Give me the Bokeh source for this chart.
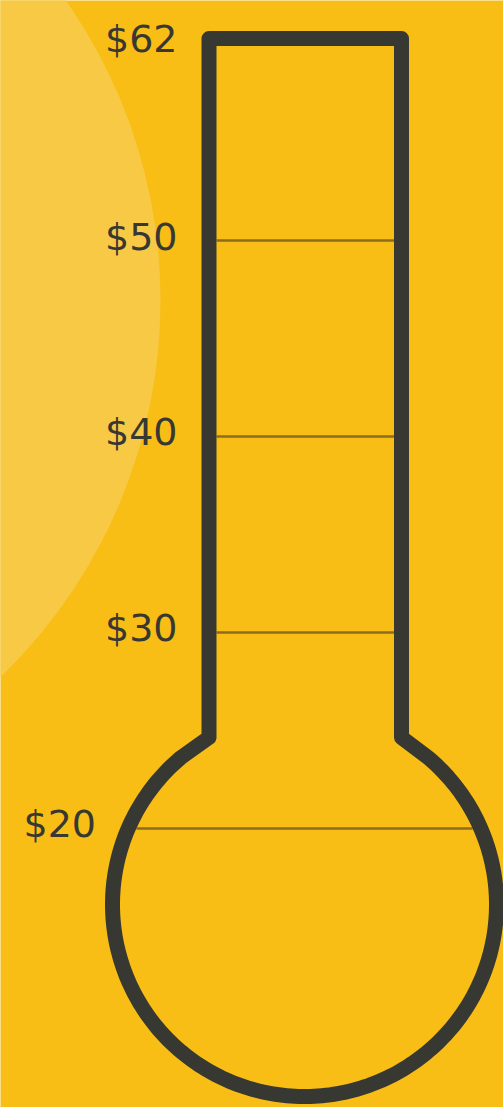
import numpy as np
from bokeh.plotting import figure
from bokeh.models import Range1d, ColumnDataSource
from bokeh.core.properties import value
from bokeh.embed import file_html
from bokeh.resources import INLINE

# ---- data ----
tick_values = [50, 40, 30, 20]
tick_labels = ["$50", "$40", "$30", "$20"]
goal_value = 62
goal_label = "$" + str(goal_value)

# ---- page / style ----
W, H = 503, 1107
BG = "#F8BE16"
HALO = "#F8C944"
INK = "#383833"
TICK = "#8B6D1F"
FONT = "DejaVu Sans"
FONT_SIZE = "38px"

# dollar scale spanning the page height (bottom -> top)
USD_LO, USD_HI = 5.765, 62.245

# thermometer geometry in page pixels (y grows downward)
TUBE_L, TUBE_R, TUBE_TOP, NECK_Y = 208.5, 401.0, 38.0, 737.0
BULB_CX, BULB_CY, BULB_R = 304.0, 904.0, 192.0
STROKE = 15
HALO_CX, HALO_CY, HALO_R = -363.0, 300.0, 523.0
LABEL_GAP = 24


def px_of(v):
    return (USD_HI - v) / (USD_HI - USD_LO) * H


def inner_span(py):
    if py < NECK_Y:
        return TUBE_L + STROKE / 2, TUBE_R - STROKE / 2
    r = BULB_R - STROKE / 2
    dx = np.sqrt(max(r * r - (py - BULB_CY) ** 2, 0))
    return BULB_CX - dx, BULB_CX + dx


def outer_left(py):
    if py < NECK_Y:
        return TUBE_L - STROKE / 2
    r = BULB_R + STROKE / 2
    dx = np.sqrt(max(r * r - (py - BULB_CY) ** 2, 0))
    return BULB_CX - dx


p = figure(width=W, height=H, output_backend="svg", toolbar_location=None,
           x_range=Range1d(0, W), y_range=Range1d(H, 0),
           min_border=0, min_border_left=0, min_border_right=0,
           min_border_top=0, min_border_bottom=0)
p.extra_y_ranges = {"usd": Range1d(USD_LO, USD_HI)}
p.background_fill_color = BG
p.border_fill_color = BG
p.outline_line_color = None
p.xaxis.visible = False
p.yaxis.visible = False
p.xgrid.visible = False
p.ygrid.visible = False

# soft halo
p.circle(x=[HALO_CX], y=[HALO_CY], radius=HALO_R, fill_color=HALO, line_color=None)

# tick lines (in dollar units)
x0s, x1s, lxs = [], [], []
for v in tick_values:
    py = px_of(v)
    a, b = inner_span(py)
    x0s.append(a)
    x1s.append(b)
    lxs.append(outer_left(py) - LABEL_GAP)
src = ColumnDataSource(dict(x0=x0s, x1=x1s, y=tick_values, lx=lxs, label=tick_labels))
p.segment(x0="x0", y0="y", x1="x1", y1="y", source=src, y_range_name="usd",
          line_color=TICK, line_width=2.5)
p.text(x="lx", y="y", text="label", source=src, y_range_name="usd",
       text_align="right", text_baseline="alphabetic", y_offset=-4,
       text_font=value(FONT), text_font_size=FONT_SIZE, text_color=INK)

# thermometer outline
join_dy = 20.0
theta0 = -np.arcsin((BULB_CY - (NECK_Y + join_dy)) / BULB_R)
theta1 = np.pi - theta0
th = np.linspace(theta0, theta1, 240)
xs = [TUBE_L, TUBE_L, TUBE_R, TUBE_R] + list(BULB_CX + BULB_R * np.cos(th)) + [TUBE_L]
ys = [NECK_Y, TUBE_TOP, TUBE_TOP, NECK_Y] + list(BULB_CY + BULB_R * np.sin(th)) + [NECK_Y]
p.line(xs, ys, line_color=INK, line_width=STROKE, line_join="round", line_cap="round")

# goal label at the top of the tube
p.text(x=[TUBE_L - STROKE / 2 - LABEL_GAP], y=[TUBE_TOP], text=[goal_label],
       text_align="right", text_baseline="alphabetic",
       text_font=value(FONT), text_font_size=FONT_SIZE, text_color=INK)

open("out.html", "w").write(file_html(p, INLINE))
